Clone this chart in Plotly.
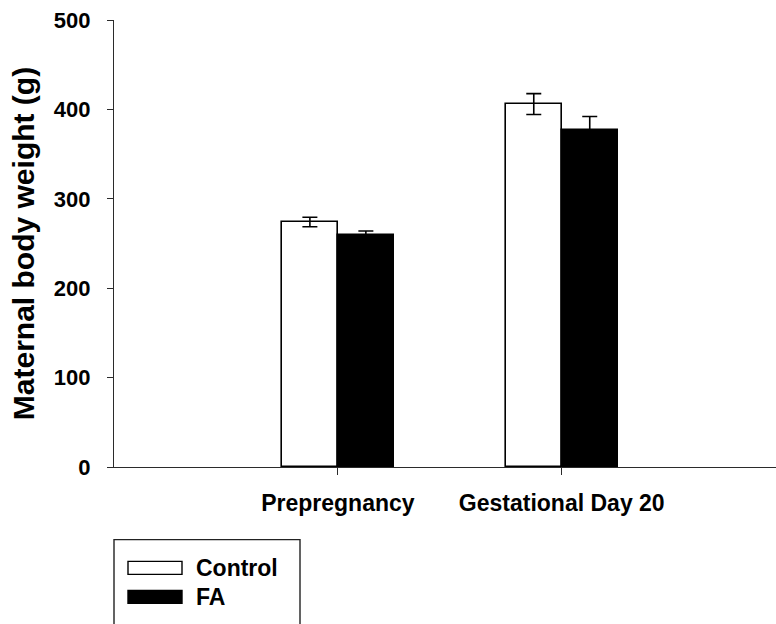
import plotly.graph_objects as go

# Maternal body weight (g), mean ± SE
categories = ["Prepregnancy", "Gestational Day 20"]
control_mean = [274, 406]
control_se = [5.3, 11.7]
fa_mean = [259, 377]
fa_se = [5, 15]
y_ticks = [0, 100, 200, 300, 400, 500]
legend_labels = ["Control", "FA"]

W, H = 776, 624
ML, MR, MT = 114, 0, 20
PLOT_BOTTOM = 466.7
MB = H - PLOT_BOTTOM
PW, PH = W - ML - MR, PLOT_BOTTOM - MT

FONT = "Liberation Sans, Arial, sans-serif"
AXIS_COLOR = "#2b2b2b"

xpos = list(range(len(categories)))

fig = go.Figure()
fig.add_trace(go.Bar(
    x=xpos, y=control_mean, name=legend_labels[0],
    offset=-0.25, width=0.25,
    marker=dict(color="white", line=dict(color="black", width=1.6)),
    error_y=dict(type="data", array=control_se, visible=True,
                 color="black", thickness=1.6, width=7.5),
    showlegend=False,
))
fig.add_trace(go.Bar(
    x=xpos, y=fa_mean, name=legend_labels[1],
    offset=0, width=0.25,
    marker=dict(color="black", line=dict(color="black", width=1.6)),
    error_y=dict(type="data", array=fa_se, visible=True,
                 color="black", thickness=1.6, width=7.5),
    showlegend=False,
))


def px_x(px):
    return (px - ML) / PW


def px_y(py):
    return (PLOT_BOTTOM - py) / PH


# Legend drawn as a framed box with swatches
shapes = [
    dict(type="rect", xref="paper", yref="paper",
         x0=px_x(114), x1=px_x(300), y0=px_y(640), y1=px_y(539.3),
         line=dict(color="#222", width=1.4), fillcolor="rgba(0,0,0,0)"),
    dict(type="rect", xref="paper", yref="paper",
         x0=px_x(128), x1=px_x(182), y0=px_y(574), y1=px_y(561),
         line=dict(color="black", width=1.4), fillcolor="white"),
    dict(type="rect", xref="paper", yref="paper",
         x0=px_x(128), x1=px_x(182), y0=px_y(603), y1=px_y(590),
         line=dict(color="black", width=1.4), fillcolor="black"),
]
annotations = [
    dict(xref="paper", yref="paper", x=px_x(194), y=px_y(567.5),
         text=legend_labels[0], showarrow=False, xanchor="left", yanchor="middle",
         font=dict(family=FONT, size=23, color="black", weight="bold")),
    dict(xref="paper", yref="paper", x=px_x(194), y=px_y(597),
         text=legend_labels[1], showarrow=False, xanchor="left", yanchor="middle",
         font=dict(family=FONT, size=23, color="black", weight="bold")),
]

fig.update_layout(
    width=W, height=H,
    margin=dict(l=ML, r=MR, t=MT, b=MB, autoexpand=False),
    plot_bgcolor="white", paper_bgcolor="white",
    bargap=0, showlegend=False,
    shapes=shapes, annotations=annotations,
    font=dict(family=FONT, color="black"),
)
fig.update_xaxes(
    range=[-1.0, 1.957], tickmode="array", tickvals=xpos, ticktext=categories,
    showline=True, linecolor=AXIS_COLOR, linewidth=1.3,
    ticks="outside", ticklen=7, tickcolor=AXIS_COLOR, tickwidth=1.3,
    showgrid=False, zeroline=False, ticklabelstandoff=8,
    tickfont=dict(family=FONT, size=23, color="black", weight="bold"),
)
fig.update_yaxes(
    range=[0, 500], tickmode="array", tickvals=y_ticks,
    showline=True, linecolor=AXIS_COLOR, linewidth=1.3,
    ticks="outside", ticklen=6, tickcolor=AXIS_COLOR, tickwidth=1.3,
    showgrid=False, zeroline=False, ticklabelstandoff=12,
    tickfont=dict(family=FONT, size=22, color="black", weight="bold"),
    title=dict(text="Maternal body weight (g)", standoff=10,
               font=dict(family=FONT, size=30, color="black", weight="bold")),
)

fig.write_html("out.html")
